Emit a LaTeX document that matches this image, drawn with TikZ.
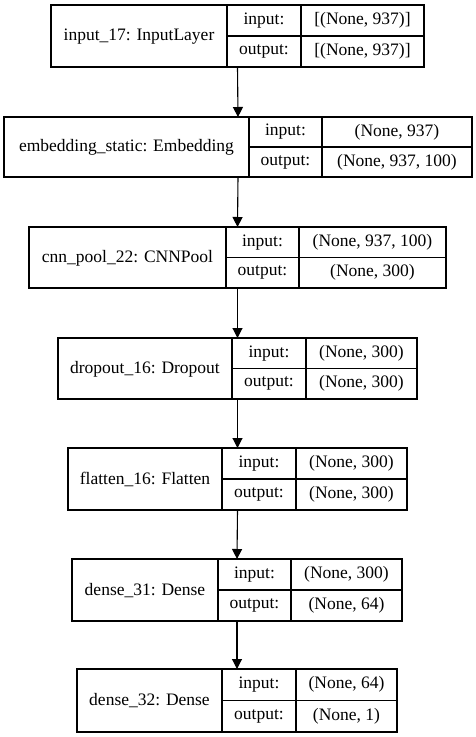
\documentclass[tikz,border=0pt]{standalone}
\usepackage{fontspec}
\setmainfont{Liberation Serif}
\usetikzlibrary{arrows.meta}
\tikzset{
  kline/.style={line width=1.1pt, draw=black},
  ktext/.style={inner sep=0pt, font=\fontsize{17.5}{21}\selectfont},
  karrow/.style={line width=1.1pt, -{Triangle[length=10pt,width=10pt]}, shorten <=0pt},
}
\newcommand\kbox[8]{%
  \pgfmathsetmacro\kw{#5-#2}\pgfmathsetmacro\kh{#7-#6}%
  \pgfmathsetmacro\kcx{(#2+#5)/2}\pgfmathsetmacro\kcy{(#6+#7)/2}%
  \node[kline, draw, minimum width=\kw pt, minimum height=\kh pt, inner sep=0pt, outer sep=0pt] (#1) at (\kcx,\kcy) {};
  \draw[kline] (#3,#6) -- (#3,#7) (#4,#6) -- (#4,#7) (#3,\kcy) -- (#5,\kcy);
  \pgfmathsetmacro\kla{(#2+#3)/2}\pgfmathsetmacro\klb{(#3+#4)/2}\pgfmathsetmacro\klc{(#4+#5)/2}%
  \pgfmathsetmacro\kyu{(#6*3+#7)/4}\pgfmathsetmacro\kyd{(#6+#7*3)/4}%
  \node[ktext] (#1-lab) at (\kla,\kcy+0.5) {#8};
  \node[ktext] (#1-inl) at (\klb,\kyu) {input:};
  \node[ktext] (#1-outl) at (\klb,\kyd) {output:};
  \coordinate (#1-in) at (\klc,\kyu);
  \coordinate (#1-out) at (\klc,\kyd);
}
\begin{document}
\begin{tikzpicture}[x=1pt,y=-1pt]
\useasboundingbox (0,0) rectangle (475,737);
\kbox{L1}{51}{227}{301}{424}{5}{67}{input\_17: InputLayer}
\node[ktext] at (L1-in) {[(None, 937)]};
\node[ktext] at (L1-out) {[(None, 937)]};
\kbox{L2}{4}{249}{322}{472}{117}{177}{embedding\_static: Embedding}
\node[ktext] at (L2-in) {(None, 937)};
\node[ktext] at (L2-out) {(None, 937, 100)};
\kbox{L3}{29}{226}{299}{446}{227}{288}{cnn\_pool\_22: CNNPool}
\node[ktext] at (L3-in) {(None, 937, 100)};
\node[ktext] at (L3-out) {(None, 300)};
\kbox{L4}{58}{232}{306}{417}{338}{399}{dropout\_16: Dropout}
\node[ktext] at (L4-in) {(None, 300)};
\node[ktext] at (L4-out) {(None, 300)};
\kbox{L5}{68}{222}{296}{407}{448}{510}{flatten\_16: Flatten}
\node[ktext] at (L5-in) {(None, 300)};
\node[ktext] at (L5-out) {(None, 300)};
\kbox{L6}{72}{218}{291}{402}{559}{621}{dense\_31: Dense}
\node[ktext] at (L6-in) {(None, 300)};
\node[ktext] at (L6-out) {(None, 64)};
\kbox{L7}{77}{222}{296}{397}{669}{732}{dense\_32: Dense}
\node[ktext] at (L7-in) {(None, 64)};
\node[ktext] at (L7-out) {(None, 1)};
\foreach \a/\b in {L1/L2,L2/L3,L3/L4,L4/L5,L5/L6,L6/L7}
  \draw[karrow] (\a.south) -- (\b.north);
\end{tikzpicture}
\end{document}
